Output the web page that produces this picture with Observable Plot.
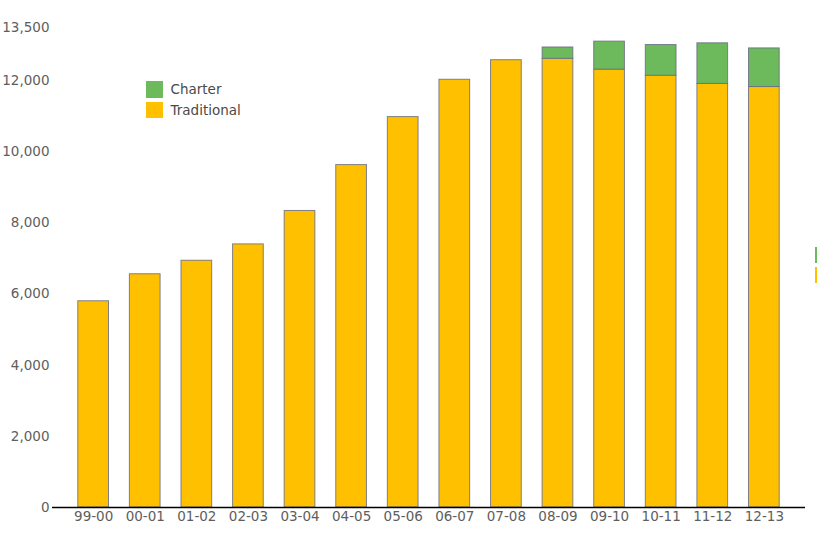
<!DOCTYPE html>
<html>
<head>
<meta charset="utf-8">
<script src="https://cdn.jsdelivr.net/npm/d3@7"></script>
<script src="https://cdn.jsdelivr.net/npm/@observablehq/plot@0.6"></script>
<style>
  html, body { margin: 0; padding: 0; background: #fff; overflow: hidden; width: 817px; height: 539px; }
  #wrap { position: relative; width: 817px; height: 539px; font-family: "DejaVu Sans", Verdana, sans-serif; }
  .lg { position: absolute; display: flex; align-items: center; font-size: 13.5px; color: #4a4a4a; }
  .sw { width: 16.5px; height: 16.5px; margin-right: 8px; }
  .edge { position: absolute; left: 815px; width: 12px; height: 16px; }
</style>
</head>
<body>
<div id="wrap"></div>
<script>
const years = ["99-00","00-01","01-02","02-03","03-04","04-05","05-06","06-07","07-08","08-09","09-10","10-11","11-12","12-13"];
const traditional = [5800, 6560, 6940, 7400, 8340, 9630, 10980, 12030, 12580, 12620, 12315, 12144, 11913, 11826];
const charter = [0, 0, 0, 0, 0, 0, 0, 0, 0, 318, 788, 863, 1142, 1086];
const seriesNames = ["Traditional", "Charter"];
const seriesColors = ["#FFC000", "#6CBA5C"];
const yTicks = [0, 2000, 4000, 6000, 8000, 10000, 12000, 13500];

const rows = [];
years.forEach((yr, i) => {
  rows.push({year: yr, series: "Traditional", value: traditional[i]});
  if (charter[i] > 0) rows.push({year: yr, series: "Charter", value: charter[i]});
});

const chart = Plot.plot({
  width: 817,
  height: 539,
  marginLeft: 52,
  marginRight: 12,
  marginTop: 27,
  marginBottom: 32,
  style: {fontFamily: '"DejaVu Sans", Verdana, sans-serif', fontSize: "13.5px", color: "#5e5e5e", background: "#fff"},
  x: {domain: years, paddingInner: 0.405, paddingOuter: 0.5, round: false, label: null, tickSize: 0, tickPadding: 4},
  y: {domain: [0, 13500], ticks: yTicks, tickFormat: d3.format(","), label: null, tickSize: 0, tickPadding: 3},
  color: {domain: seriesNames, range: seriesColors},
  marks: [
    Plot.barY(rows, Plot.stackY({
      x: "year", y: "value", fill: "series",
      order: seriesNames,
      stroke: "#6a6f85", strokeWidth: 1, strokeOpacity: 0.85
    })),
    Plot.ruleY([0], {stroke: "#000", strokeWidth: 1.3})
  ]
});

const wrap = document.getElementById("wrap");
wrap.appendChild(chart);

// Legend (upper left)
const legendItems = [["Charter", seriesColors[1], 81], ["Traditional", seriesColors[0], 101.5]];
legendItems.forEach(([name, col, top]) => {
  const d = document.createElement("div");
  d.className = "lg";
  d.style.left = "146px";
  d.style.top = top + "px";
  d.innerHTML = `<div class="sw" style="background:${col}"></div><span>${name}</span>`;
  wrap.appendChild(d);
});

// Clipped legend swatches at the right edge
[[seriesColors[1], 246.5], [seriesColors[0], 267]].forEach(([col, top]) => {
  const e = document.createElement("div");
  e.className = "edge";
  e.style.top = top + "px";
  e.style.background = col;
  wrap.appendChild(e);
});
</script>
</body>
</html>
